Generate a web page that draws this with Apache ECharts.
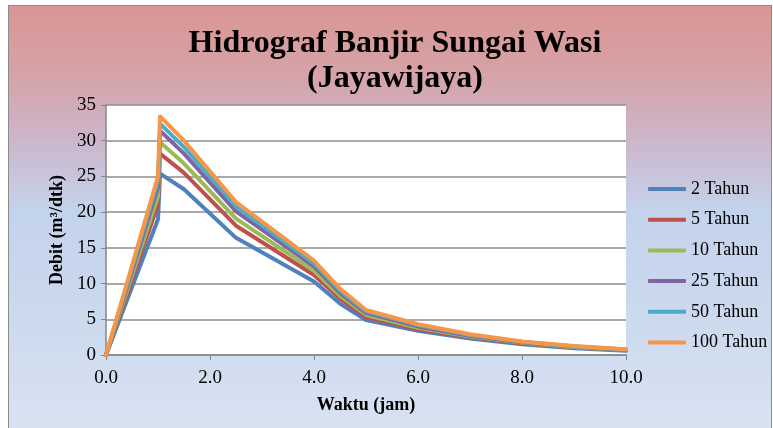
<!DOCTYPE html>
<html>
<head>
<meta charset="utf-8">
<script src="https://cdn.jsdelivr.net/npm/echarts@6/dist/echarts.min.js"></script>
<style>
  html, body { margin: 0; padding: 0; background: #ffffff; }
  #frame {
    position: absolute; left: 8px; top: 5px; width: 762px; height: 430px;
    border: 1px solid #8c8c8c;
    background: linear-gradient(to bottom, #d99694 0%, #d6a2a6 15%, #cdb4c8 30%, #c4d3ec 48%, #cbd9ee 70%, #d9e3f2 100%);
  }
  #chart { position: absolute; left: 0; top: 0; width: 773px; height: 428px; }
</style>
</head>
<body>
<div id="frame"></div>
<div id="chart"></div>
<script>
// Time (hours)
const waktu = [0, 1.0, 1.04, 1.5, 2.5, 4.0, 4.5, 5.0, 6.0, 7.0, 8.0, 9.0, 10.0];
// Debit (m3/dtk) for each return period
const q2   = [0, 19.0, 25.4, 23.2, 16.4, 10.3, 7.2, 4.9, 3.4, 2.3, 1.5, 0.95, 0.6];
const q5   = [0, 21.1, 28.2, 25.5, 18.1, 11.2, 7.9, 5.3, 3.6, 2.5, 1.6, 1.05, 0.7];
const q10  = [0, 22.2, 29.8, 26.8, 19.1, 11.8, 8.3, 5.6, 3.8, 2.6, 1.7, 1.1, 0.7];
const q25  = [0, 23.5, 31.4, 28.2, 20.1, 12.4, 8.7, 5.9, 4.0, 2.7, 1.8, 1.2, 0.75];
const q50  = [0, 24.3, 32.4, 29.1, 20.8, 12.8, 9.0, 6.1, 4.2, 2.8, 1.85, 1.2, 0.78];
const q100 = [0, 25.0, 33.4, 30.0, 21.4, 13.2, 9.3, 6.3, 4.3, 2.9, 1.9, 1.25, 0.8];
const seriesNames = ['2 Tahun', '5 Tahun', '10 Tahun', '25 Tahun', '50 Tahun', '100 Tahun'];
const seriesData = [q2, q5, q10, q25, q50, q100];
const colors = ['#4f81bd', '#c0504d', '#9bbb59', '#8064a2', '#4bacc6', '#f79646'];
const titleText = 'Hidrograf Banjir Sungai Wasi\n(Jayawijaya)';
const xName = 'Waktu (jam)';
const yName = 'Debit (m\u00b3/dtk)';

const FONT = '"Liberation Serif", "Times New Roman", serif';
const chart = echarts.init(document.getElementById('chart'), null, { renderer: 'canvas' });

const series = seriesNames.map((name, i) => ({
  name: name,
  type: 'line',
  data: waktu.map((t, j) => [t, seriesData[i][j]]),
  showSymbol: false,
  symbol: 'none',
  lineStyle: { width: 4, color: colors[i], join: 'round', cap: 'round' },
  itemStyle: { color: colors[i] },
  z: 2 + i,
  animation: false
}));

chart.setOption({
  animation: false,
  backgroundColor: 'transparent',
  color: colors,
  title: {
    text: titleText,
    left: 395,
    textAlign: 'center',
    top: 26,
    padding: 0,
    textStyle: { fontFamily: FONT, fontSize: 32, fontWeight: 'bold', color: '#000', lineHeight: 35 }
  },
  legend: {
    orient: 'vertical',
    left: 643,
    top: 175,
    itemWidth: 38,
    itemHeight: 4,
    itemGap: 12.7,
    icon: 'roundRect',
    data: seriesNames,
    textStyle: { fontFamily: FONT, fontSize: 18, color: '#000', lineHeight: 18 }
  },
  grid: {
    left: 106, right: 147, top: 105, bottom: 73,
    show: true, backgroundColor: '#ffffff', borderWidth: 0
  },
  xAxis: {
    type: 'value', min: 0, max: 10, interval: 2,
    name: xName, nameLocation: 'middle', nameGap: 41,
    nameTextStyle: { fontFamily: FONT, fontSize: 18, fontWeight: 'bold', color: '#000' },
    axisLine: { show: true, lineStyle: { color: '#868686', width: 1.5 } },
    axisTick: { show: true, length: 5, lineStyle: { color: '#868686' } },
    axisLabel: { fontFamily: FONT, fontSize: 19, color: '#000', margin: 14, formatter: v => v.toFixed(1) },
    splitLine: { show: false }
  },
  yAxis: {
    type: 'value', min: 0, max: 35, interval: 5,
    name: yName, nameLocation: 'middle', nameGap: 40, nameRotate: 90,
    nameTextStyle: { fontFamily: FONT, fontSize: 18, fontWeight: 'bold', color: '#000' },
    axisLine: { show: true, lineStyle: { color: '#868686', width: 1.5 } },
    axisTick: { show: true, length: 5, lineStyle: { color: '#868686' } },
    axisLabel: { fontFamily: FONT, fontSize: 19, color: '#000', margin: 10 },
    splitLine: { show: true, lineStyle: { color: '#8c8c8c', width: 1.5 } }
  },
  series: series
});
</script>
</body>
</html>
